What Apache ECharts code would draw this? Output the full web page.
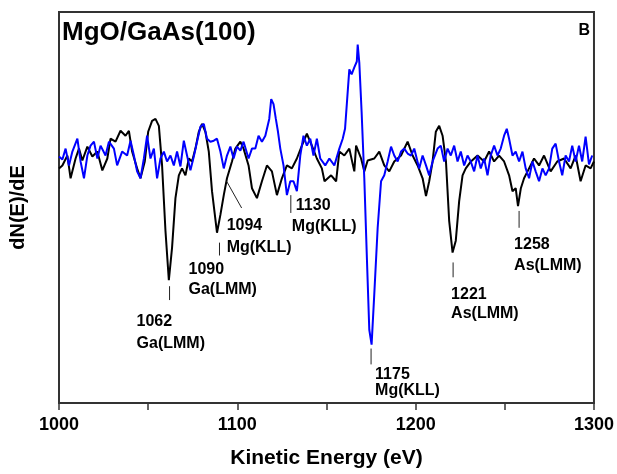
<!DOCTYPE html>
<html><head><meta charset="utf-8">
<script src="https://cdn.jsdelivr.net/npm/echarts@6/dist/echarts.min.js"></script>
<style>html,body{margin:0;padding:0;background:#fff}#c{width:617px;height:474px}</style>
</head><body><div id="c"></div>
<script>
// Black trace (GaAs reference) : kinetic energy (eV) and dN(E)/dE (arb. units)
const energyBlack = [1000,1001.9,1004.7,1006.5,1009.3,1011.2,1013.1,1015.9,1018.7,1021.5,1024.3,1027.1,1028.9,1031.7,1034.5,1037.3,1039.2,1041.0,1043.8,1045.7,1048.1,1050.0,1052.2,1054.1,1056.0,1057.8,1059.7,1061.6,1063.4,1065.3,1067.2,1069.0,1070.9,1072.8,1074.6,1076.5,1078.4,1080.2,1082.1,1084.0,1085.8,1088.6,1090.5,1092.4,1094.2,1097.0,1098.9,1101.7,1103.5,1106.3,1108.2,1111.0,1113.8,1116.6,1119.4,1122.2,1125.0,1127.8,1130.6,1133.4,1136.2,1139.0,1141.8,1144.6,1147.4,1148.9,1152.6,1155.4,1157.2,1160.0,1162.8,1165.6,1166.6,1169.4,1171.2,1173.1,1176.8,1179.6,1182.4,1185.2,1188.0,1191.8,1195.5,1198.3,1201.1,1203.9,1205.8,1207.6,1209.5,1211.3,1213.2,1215.1,1217.0,1218.8,1220.7,1222.5,1224.4,1226.3,1228.1,1231.0,1234.7,1238.4,1241.2,1244.0,1246.8,1249.6,1252.4,1254.3,1256.1,1257.4,1259.0,1260.8,1263.6,1266.4,1269.2,1272.0,1275.7,1279.4,1283.2,1286.9,1289.7,1292.5,1295.3,1298.1,1300];
const signalBlack = [-7,-4,6,-17,3,13,1,15,5,10,-9,3,23,20,31,26,31,10,-7,-17,0,30,41,43,36,-4,-70,-120,-87,-37,-14,-7,-14,3,0,13,30,38,30,10,-30,-72,-54,-34,-17,0,13,20,13,-4,-27,-37,-20,-4,-10,-34,-17,-4,-7,3,16,28,16,3,-7,-20,-14,-20,10,6,13,-10,16,3,-10,1,3,10,-4,-10,0,6,20,6,-4,-17,-35,-20,0,30,36,26,0,-60,-92,-80,-40,-14,-7,0,6,0,10,0,6,0,-14,-30,-27,-45,-27,-17,-7,3,-4,6,-10,0,3,-7,6,-20,-4,-7,0];

// Blue trace (MgO/GaAs)
const energyBlue = [1000,1001.9,1003.7,1005.6,1007.5,1010.3,1012.1,1014.0,1015.9,1017.7,1019.6,1021.5,1023.3,1026.1,1028.0,1030.8,1032.6,1035.4,1038.2,1040.1,1042.0,1043.8,1045.7,1047.6,1049.4,1051.3,1053.2,1055.0,1056.9,1058.8,1060.6,1062.5,1064.4,1066.2,1068.1,1070.0,1071.8,1073.7,1075.6,1077.4,1079.3,1081.2,1083.0,1084.9,1086.8,1088.6,1090.5,1092.4,1094.2,1096.1,1097.9,1099.8,1101.7,1103.5,1106.3,1108.2,1110.1,1111.9,1113.8,1115.7,1117.9,1119.0,1120.3,1121.6,1122.8,1124.1,1125.9,1127.8,1129.7,1131.5,1133.4,1135.3,1137.1,1139.0,1140.9,1142.7,1144.6,1146.5,1149.3,1151.6,1154.4,1157.2,1159.1,1160.4,1162.8,1164.1,1165.6,1167.0,1167.5,1168.4,1169.7,1171.2,1172.7,1174.0,1175.3,1176.8,1178.7,1180.6,1182.4,1184.3,1186.2,1188.0,1189.9,1191.8,1193.6,1195.5,1197.4,1199.2,1202.0,1203.9,1205.8,1207.6,1209.5,1212.3,1214.1,1216.0,1217.9,1219.7,1221.6,1223.5,1225.3,1227.2,1229.1,1230.9,1232.8,1234.7,1236.5,1238.4,1240.3,1242.1,1244.0,1245.9,1247.7,1249.6,1251.1,1252.4,1254.3,1256.1,1258.0,1259.9,1261.7,1263.6,1265.5,1267.3,1269.2,1271.1,1272.9,1274.8,1276.6,1278.5,1280.4,1282.2,1284.1,1286.0,1287.8,1289.7,1291.6,1293.4,1295.3,1297.2,1299.0];
const signalBlue = [5,2,13,-4,10,23,0,-17,6,16,20,3,16,6,20,13,-4,10,6,21,6,-10,-17,3,26,3,13,-17,3,10,0,6,-4,10,-5,21,6,-9,5,20,35,38,23,20,21,23,10,-7,6,15,3,15,11,20,3,13,13,26,20,26,43,63,58,43,30,13,-4,-34,-20,-20,-30,6,26,16,23,6,23,3,-4,3,-4,13,23,33,93,88,95,101,118,100,50,-17,-100,-170,-185,-134,-67,-20,-14,0,15,6,0,10,13,8,6,13,-7,6,-4,-14,0,13,16,0,13,6,16,0,10,-4,6,0,-10,6,-7,3,-14,6,16,6,13,26,33,23,6,10,0,10,-7,-17,0,-10,-20,-7,-14,-7,13,18,0,-14,6,0,16,0,16,0,25,-3,6];

// Peak annotations
const peakEnergies = [1062, 1090, 1094, 1130, 1175, 1221, 1258];
const peakNumbers = ['1062', '1090', '1094', '1130', '1175', '1221', '1258'];
const peakNames = ['Ga(LMM)', 'Ga(LMM)', 'Mg(KLL)', 'Mg(KLL)', 'Mg(KLL)', 'As(LMM)', 'As(LMM)'];
const xTickLabels = ['1000', '1100', '1200', '1300'];

// annotation layout (value-unit y positions, pixel x offsets)
const annLayout = [
  {t1:-126, t2:-140, y1:-162, y2:-184, dx1:-33, dx2:-33},
  {t1:-82,  t2:-95,  y1:-109, y2:-129, dx1:-31, dx2:-31},
  {t1:-20,  t2:-47,  y1:-65,  y2:-87,  dx1:0,   dx2:0, leader:15},
  {t1:-34,  t2:-52,  y1:-45,  y2:-66,  dx1:5,   dx2:1},
  {t1:-189, t2:-205, y1:-215, y2:-231, dx1:4,   dx2:4},
  {t1:-102, t2:-117, y1:-134, y2:-154, dx1:-2,  dx2:-2},
  {t1:-50,  t2:-67,  y1:-84,  y2:-105, dx1:-5,  dx2:-5}
];

const FONT = '"Liberation Sans", Arial, sans-serif';
const chart = echarts.init(document.getElementById('c'), null, {renderer:'canvas'});
const zip = (xs, ys) => xs.map((x, i) => [x, ys[i]]);

chart.setOption({
  animation: false,
  backgroundColor: '#fff',
  title: {
    text: 'MgO/GaAs(100)', left: 62, top: 20, padding: 0,
    textStyle: {fontFamily: FONT, fontWeight: 'bold', fontSize: 26, color: '#000'}
  },
  grid: {left: 59, right: 22, top: 12, bottom: 67, show: true, borderColor: '#333', borderWidth: 2},
  xAxis: {
    type: 'value', min: 1000, max: 1300, interval: 50,
    name: 'Kinetic Energy (eV)', nameLocation: 'middle', nameGap: 45,
    nameTextStyle: {fontFamily: FONT, fontWeight: 'bold', fontSize: 21, color: '#000'},
    axisLine: {show: true, onZero: false, lineStyle: {color: '#333', width: 2}},
    axisTick: {show: true, inside: false, length: 7, lineStyle: {color: '#333', width: 1.5}},
    axisLabel: {
      margin: 13, fontFamily: FONT, fontWeight: 'bold', fontSize: 18, color: '#000',
      formatter: v => { const s = String(Math.round(v)); return xTickLabels.includes(s) ? s : ''; }
    },
    splitLine: {show: false}
  },
  yAxis: {
    type: 'value', min: -244, max: 151,
    name: 'dN(E)/dE', nameLocation: 'middle', nameGap: 31, nameRotate: 90,
    nameTextStyle: {fontFamily: FONT, fontWeight: 'bold', fontSize: 20, color: '#000'},
    axisLine: {show: true, lineStyle: {color: '#333', width: 2}},
    axisTick: {show: false}, axisLabel: {show: false}, splitLine: {show: false}
  },
  series: [
    {type: 'line', data: zip(energyBlack, signalBlack), showSymbol: false, symbol: 'none',
     lineStyle: {color: '#000', width: 2}, z: 2},
    {type: 'line', data: zip(energyBlue, signalBlue), showSymbol: false, symbol: 'none',
     lineStyle: {color: '#0000ff', width: 2}, z: 3}
  ]
});

const g = [];
peakEnergies.forEach((e, i) => {
  const L = annLayout[i];
  const p1 = chart.convertToPixel({gridIndex: 0}, [e, L.t1]);
  const p2 = chart.convertToPixel({gridIndex: 0}, [e, L.t2]);
  const q1 = chart.convertToPixel({gridIndex: 0}, [e, L.y1]);
  const q2 = chart.convertToPixel({gridIndex: 0}, [e, L.y2]);
  const x2 = L.leader ? p2[0] + L.leader : p2[0];
  g.push({type: 'line', shape: {x1: p1[0], y1: p1[1], x2: x2, y2: p2[1]},
          style: {stroke: '#222', lineWidth: 1}, z: 10});
  g.push({type: 'text', x: q1[0] + L.dx1, y: q1[1],
          style: {text: peakNumbers[i], font: 'bold 16px ' + FONT, fill: '#000', textVerticalAlign: 'middle', verticalAlign: 'middle'}, z: 10});
  g.push({type: 'text', x: q2[0] + L.dx2, y: q2[1],
          style: {text: peakNames[i], font: 'bold 16px ' + FONT, fill: '#000', textVerticalAlign: 'middle', verticalAlign: 'middle'}, z: 10});
});
g.push({type: 'text', right: 27, top: 23,
        style: {text: 'B', font: 'bold 16px ' + FONT, fill: '#000'}, z: 10});
chart.setOption({graphic: g});
</script>
</body></html>
